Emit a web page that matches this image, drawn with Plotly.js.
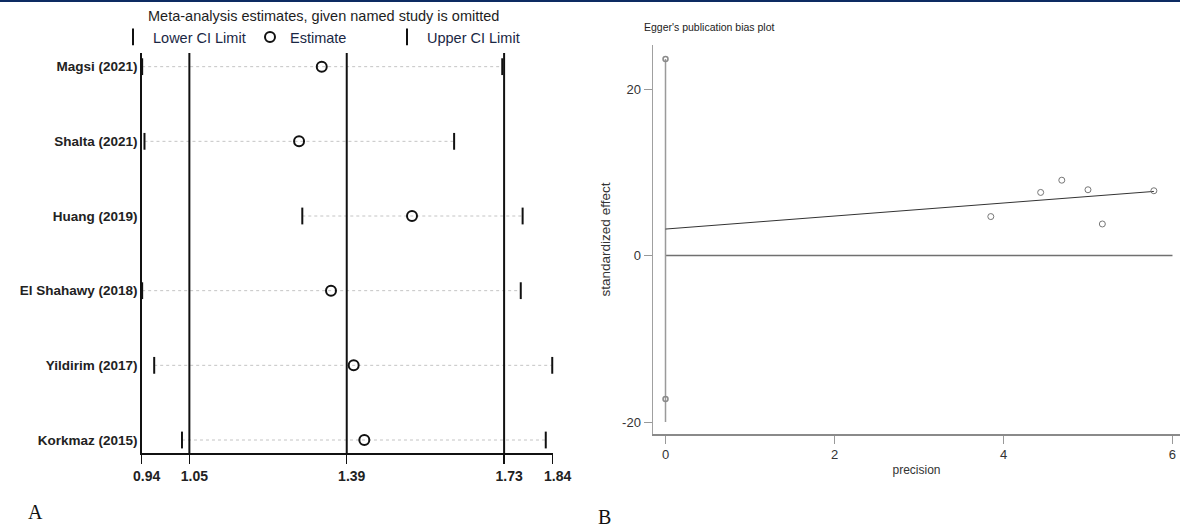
<!DOCTYPE html>
<html><head><meta charset="utf-8">
<script src="https://cdn.plot.ly/plotly-3.0.1.min.js"></script>
<style>html,body{margin:0;padding:0;background:#fff}#chart{width:1180px;height:528px}</style>
</head><body><div id="chart"></div><script>
// ---- Panel A: influence analysis (study omitted) ----
const studies = ["Magsi (2021)", "Shalta (2021)", "Huang (2019)", "El Shahawy (2018)", "Yildirim (2017)", "Korkmaz (2015)"];
const estimate = [1.336, 1.287, 1.531, 1.356, 1.405, 1.428];
const lowerCI  = [0.948, 0.953, 1.294, 0.948, 0.974, 1.034];
const upperCI  = [1.726, 1.622, 1.770, 1.766, 1.834, 1.820];
const pooled   = [1.05, 1.39, 1.73];           // pooled lower CI, estimate, upper CI
const axisTickVals = [0.947, 1.05, 1.39, 1.73, 1.835];
const axisTickText = ["0.94", "1.05", "1.39", "1.73", "1.84"];

// ---- Panel B: Egger's publication bias plot ----
const precision = [3.85, 4.44, 4.69, 5.00, 5.17, 5.78];
const stdEffect = [4.68, 7.58, 9.05, 7.90, 3.79, 7.78];
const eggerFitX = [0, 5.78];
const eggerFitY = [3.18, 7.70];
const interceptX = [0, 0];
const interceptLineY = [-20, 23.6];
const interceptCI = [-17.24, 23.6];
const zeroRefX = [0, 6];
const zeroRefY = [0, 0];
const bTickVals = [-20, 0, 20];
const bTickText = ["-20", "0", "20"];

const W = 1180, H = 528;
const px = v => v / W;
const py = v => 1 - v / H;

// dotted CI lines
const dotX = [], dotY = [];
studies.forEach((s, i) => { dotX.push(lowerCI[i], upperCI[i], null); dotY.push(s, s, null); });

const sans = "Arial, 'Liberation Sans', sans-serif";
const narrow = "'Liberation Sans Narrow', 'Arial Narrow', Arial, sans-serif";

const traces = [
  {type: 'scatter', mode: 'lines', x: dotX, y: dotY, xaxis: 'x', yaxis: 'y',
   line: {color: '#c4c4c4', width: 1, dash: 'dot'}, showlegend: false, hoverinfo: 'skip'},
  {type: 'scatter', mode: 'markers', name: 'Lower CI Limit', x: lowerCI, y: studies, xaxis: 'x', yaxis: 'y', cliponaxis: false,
   marker: {symbol: 'line-ns', size: 12, line: {color: '#111', width: 2}}},
  {type: 'scatter', mode: 'markers', name: 'Estimate', x: estimate, y: studies, xaxis: 'x', yaxis: 'y', cliponaxis: false,
   marker: {symbol: 'circle-open', size: 10, color: '#111', line: {color: '#111', width: 2}}},
  {type: 'scatter', mode: 'markers', name: 'Upper CI Limit', x: upperCI, y: studies, xaxis: 'x', yaxis: 'y', cliponaxis: false,
   marker: {symbol: 'line-ns', size: 12, line: {color: '#111', width: 2}}},
  // Panel B
  {type: 'scatter', mode: 'lines', x: zeroRefX, y: zeroRefY, xaxis: 'x2', yaxis: 'y2',
   line: {color: '#707070', width: 1.5}, showlegend: false, hoverinfo: 'skip'},
  {type: 'scatter', mode: 'lines', x: interceptX, y: interceptLineY, xaxis: 'x2', yaxis: 'y2',
   line: {color: '#9a9a9a', width: 1.5}, showlegend: false, hoverinfo: 'skip'},
  {type: 'scatter', mode: 'markers', x: interceptX, y: interceptCI, xaxis: 'x2', yaxis: 'y2',
   marker: {symbol: 'circle-open', size: 5, color: '#8a8a8a', line: {color: '#8a8a8a', width: 1.5}}, showlegend: false},
  {type: 'scatter', mode: 'lines', x: eggerFitX, y: eggerFitY, xaxis: 'x2', yaxis: 'y2',
   line: {color: '#333', width: 1}, showlegend: false},
  {type: 'scatter', mode: 'markers', x: precision, y: stdEffect, xaxis: 'x2', yaxis: 'y2',
   marker: {symbol: 'circle-open', size: 6, color: '#777', line: {color: '#777', width: 1}}, showlegend: false}
];

const shapes = pooled.map(v => ({type: 'line', xref: 'x', yref: 'y domain', x0: v, x1: v, y0: 0, y1: 1,
  line: {color: '#111', width: 2}}));
shapes.push({type: 'rect', xref: 'paper', yref: 'paper', x0: 0, x1: 1, y0: py(2), y1: 1,
  fillcolor: '#0d2b62', line: {width: 0}});

const layout = {
  width: W, height: H, autosize: false,
  margin: {l: 0, r: 0, t: 0, b: 0, pad: 0},
  paper_bgcolor: '#fff', plot_bgcolor: '#fff',
  font: {family: sans, color: '#222'},
  showlegend: true,
  legend: {orientation: 'h', x: px(113), xanchor: 'left', y: py(21), yanchor: 'top',
    font: {family: sans, size: 14.5, color: '#1a2744'}, entrywidth: 92, entrywidthmode: 'pixels',
    bgcolor: 'rgba(0,0,0,0)', itemclick: false},
  xaxis: {domain: [px(141.7), px(552.7)], range: [0.947, 1.835], anchor: 'y',
    tickvals: axisTickVals, ticktext: axisTickText, ticks: 'outside', ticklen: 9, tickwidth: 1.5, tickcolor: '#111',
    showline: true, linecolor: '#111', linewidth: 1.5, showgrid: false, zeroline: false, ticklabelshift: 5,
    tickfont: {family: sans, size: 14, color: '#222', weight: 'bold'}},
  yaxis: {domain: [py(453.3), py(53)], type: 'category', categoryarray: studies.slice().reverse(),
    range: [-0.178, 5.183], anchor: 'x', ticks: '', showline: true, linecolor: '#111', linewidth: 1.5,
    showgrid: false, zeroline: false, ticklabelstandoff: 0,
    tickfont: {family: sans, size: 13.5, color: '#222', weight: 'bold'}},
  xaxis2: {domain: [px(653), 1], range: [-0.148, 6.089], anchor: 'y2',
    tickvals: [0, 2, 4, 6], ticks: 'outside', ticklen: 8, tickwidth: 1, tickcolor: '#999',
    showline: true, linecolor: '#8a8a8a', linewidth: 1.5, showgrid: false, zeroline: false,
    tickfont: {family: narrow, size: 13, color: '#333'},
    title: {text: 'precision', font: {family: narrow, size: 12, color: '#333'}, standoff: 4}},
  yaxis2: {domain: [py(434), py(45)], range: [-21.44, 25.29], anchor: 'x2',
    tickvals: bTickVals, ticktext: bTickText, ticks: 'outside', ticklen: 8, tickwidth: 1, tickcolor: '#999',
    showline: true, linecolor: '#a0a0a0', linewidth: 1.5, showgrid: false, zeroline: false,
    tickfont: {family: narrow, size: 13, color: '#333'},
    title: {text: 'standardized effect', font: {family: narrow, size: 13.5, color: '#333'}, standoff: 8}},
  shapes: shapes,
  annotations: [
    {xref: 'paper', yref: 'paper', x: px(146), y: py(16), xanchor: 'left', yanchor: 'middle', showarrow: false,
     text: 'Meta-analysis estimates, given named study is omitted', font: {family: sans, size: 14.5, color: '#1e1e1e'}},
    {xref: 'paper', yref: 'paper', x: px(642), y: py(27), xanchor: 'left', yanchor: 'middle', showarrow: false,
     text: "Egger's publication bias plot", font: {family: narrow, size: 10.5, color: '#222'}},
    {xref: 'paper', yref: 'paper', x: px(35), y: py(512), xanchor: 'center', yanchor: 'middle', showarrow: false,
     text: 'A', font: {family: "'Liberation Serif', 'Times New Roman', serif", size: 20, color: '#111'}},
    {xref: 'paper', yref: 'paper', x: px(604), y: py(517), xanchor: 'center', yanchor: 'middle', showarrow: false,
     text: 'B', font: {family: "'Liberation Serif', 'Times New Roman', serif", size: 20, color: '#111'}}
  ]
};

Plotly.newPlot('chart', traces, layout, {staticPlot: true, displayModeBar: false});
</script></body></html>
